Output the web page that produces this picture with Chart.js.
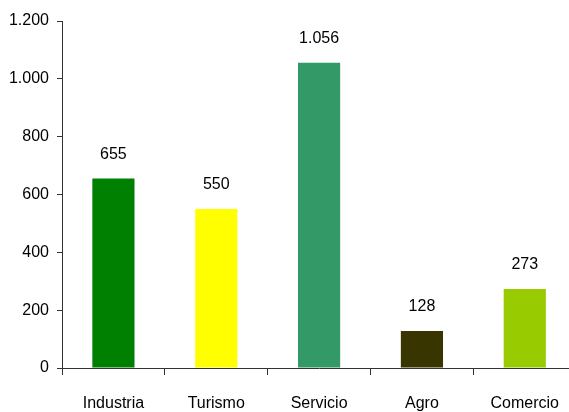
<!DOCTYPE html>
<html lang="es">
<head>
    <meta charset="UTF-8">
    <title>Empresas por sector</title>
    <script src="https://cdn.jsdelivr.net/npm/chart.js"></script>
    <style>
        body { margin: 0; background: #fff; overflow: hidden; }
    </style>
</head>
<body>
    <!-- plot runs a little past the right edge of the window, like the original -->
    <canvas id="sectorChart" width="578" height="412"></canvas>

    <script>
        const sectors = ['Industria', 'Turismo', 'Servicio', 'Agro', 'Comercio'];
        const totals = [655, 550, 1056, 128, 273];
        const barColors = ['#008000', '#ffff00', '#339966', '#383500', '#99cc00'];

        const fontFamily = '"Liberation Sans Narrow", "Arial Narrow", "Liberation Sans", sans-serif';

        function formatNum(v) {
            return String(v).replace(/\B(?=(\d{3})+(?!\d))/g, '.');
        }

        // values drawn above each bar
        const valueLabels = {
            id: 'valueLabels',
            afterDatasetsDraw(chart) {
                const ctx = chart.ctx;
                const meta = chart.getDatasetMeta(0);
                ctx.save();
                ctx.font = '16px ' + fontFamily;
                ctx.fillStyle = '#000';
                ctx.textAlign = 'center';
                ctx.textBaseline = 'middle';
                meta.data.forEach((bar, i) => {
                    ctx.fillText(formatNum(totals[i]), bar.x, bar.y - 24);
                });
                ctx.restore();
            }
        };

        new Chart(document.getElementById('sectorChart'), {
            type: 'bar',
            data: {
                labels: sectors,
                datasets: [{
                    data: totals,
                    backgroundColor: barColors,
                    borderWidth: 0,
                    categoryPercentage: 1,
                    barPercentage: 0.41
                }]
            },
            options: {
                responsive: false,
                animation: false,
                layout: { padding: { top: 21, right: 0, left: 0, bottom: 0 } },
                plugins: {
                    legend: { display: false },
                    tooltip: { enabled: false }
                },
                scales: {
                    x: {
                        offset: true,
                        grid: {
                            offset: true,
                            drawOnChartArea: false,
                            drawTicks: true,
                            tickLength: 7,
                            color: '#333'
                        },
                        border: { color: '#333', width: 1 },
                        ticks: {
                            color: '#000',
                            padding: 19,
                            font: { family: fontFamily, size: 16 }
                        },
                        afterFit(scale) { scale.height = 44; }
                    },
                    y: {
                        min: 0,
                        max: 1200,
                        grid: {
                            drawOnChartArea: false,
                            drawTicks: true,
                            tickLength: 5,
                            color: '#333'
                        },
                        border: { color: '#333', width: 1 },
                        ticks: {
                            stepSize: 200,
                            color: '#000',
                            padding: 8,
                            font: { family: fontFamily, size: 16 },
                            callback: v => formatNum(v)
                        },
                        afterFit(scale) { scale.width = 62; }
                    }
                }
            },
            plugins: [valueLabels]
        });
    </script>
</body>
</html>
